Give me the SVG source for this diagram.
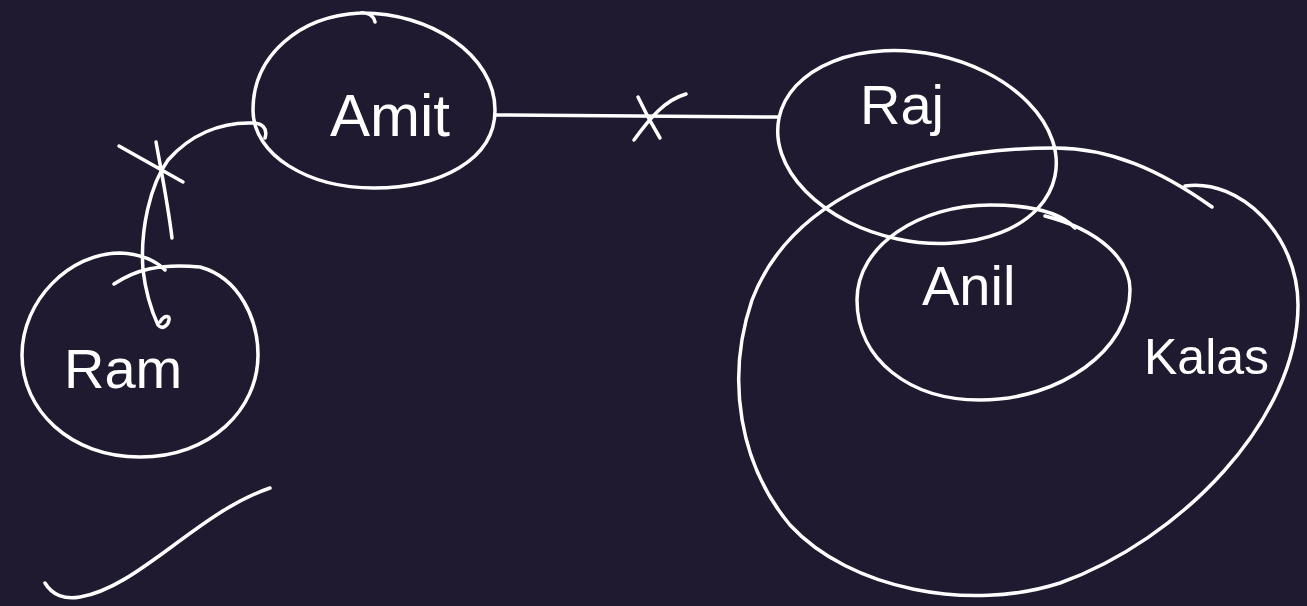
<svg xmlns="http://www.w3.org/2000/svg" width="1307" height="606" viewBox="0 0 1307 606">
<style>
.s{fill:none;stroke:#ffffff;stroke-width:3.5;stroke-linecap:round;stroke-linejoin:round}
.t{fill:#ffffff;font-family:"Liberation Sans",Arial,sans-serif;font-size:56px}
</style>
<rect width="1307" height="606" fill="#1f1a2f"/>
<g id="connectors">
<path class="s" d="M495,115 L778,117"/>
<path class="s" d="M634,140 C650,118 665,100 686,94 M638,97 C645,112 652,125 660,138"/>
<path class="s" d="M265,138 C268,128 262,123 252,123 C220,122 190,135 168,160 C150,185 140,230 143,270 C146,295 152,312 158,325 C162,330 168,326 169,320 C170,315 164,315 160,322"/>
<path class="s" d="M119,146 L183,182 M156,142 C162,175 168,205 172,238"/>
<path class="s" d="M45,583 C52,595 65,600 80,597 C110,592 140,570 170,548 C205,522 235,500 270,488"/>
</g>
<g id="ram">
<path class="s" d="M114,284 C135,270 160,263 200,267 C240,278 258,320 258,355 C258,410 210,457 140,457 C70,457 22,410 22,355 C22,300 70,253 120,253 C140,254 155,260 165,270"/>
<text class="t" x="64" y="388">Ram</text>
</g>
<g id="amit">
<path class="s" d="M360,13 C430,12 495,55 495,110 C495,160 440,188 374,188 C308,188 253,155 253,110 C253,55 300,16 360,13 C368,12 374,16 375,22"/>
<text class="t" x="330" y="136" style="font-size:60px">Amit</text>
</g>
<g id="raj">
<ellipse class="s" cx="917" cy="147" rx="141" ry="94" transform="rotate(12 917 147)"/>
<text class="t" x="860" y="124">Raj</text>
</g>
<g id="kalas">
<path class="s" d="M1185,186 C1240,178 1298,235 1298,305 C1298,420 1180,540 1060,583 C970,612 850,590 790,525 C740,465 725,380 752,300 C790,200 910,148 1055,148 C1110,148 1160,170 1212,207"/>
<text class="t" x="1144" y="374" style="font-size:50px">Kalas</text>
</g>
<g id="anil">
<path class="s" d="M1045,216 C1100,230 1130,260 1130,290 C1130,350 1060,400 980,400 C910,400 857,360 857,300 C857,245 920,205 990,205 C1030,205 1060,212 1075,228"/>
<text class="t" x="922" y="305">Anil</text>
</g>
</svg>
